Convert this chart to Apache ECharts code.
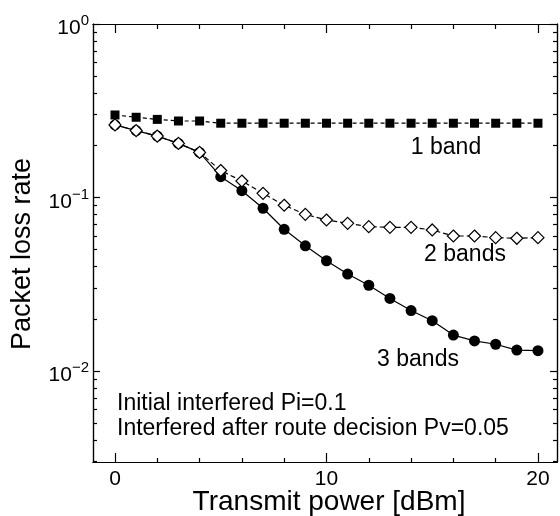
<!DOCTYPE html>
<html>
<head>
<meta charset="utf-8">
<script src="https://cdn.jsdelivr.net/npm/echarts@6/dist/echarts.min.js"></script>
<style>
  html, body { margin: 0; padding: 0; background: #fff; }
  #chart { width: 560px; height: 516px; }
</style>
</head>
<body>
<div id="chart"></div>
<script>
// transmit power [dBm]
const power = [0, 1, 2, 3, 4, 5, 6, 7, 8, 9, 10, 11, 12, 13, 14, 15, 16, 17, 18, 19, 20];
// packet loss rate
const band1 = [0.299, 0.290, 0.282, 0.276, 0.276, 0.268, 0.268, 0.268, 0.268, 0.268, 0.268,
  0.268, 0.268, 0.268, 0.268, 0.268, 0.268, 0.268, 0.268, 0.268, 0.268];
const band2 = [0.262, 0.243, 0.226, 0.205, 0.182, 0.143, 0.1245, 0.1057, 0.0902, 0.080, 0.0742,
  0.071, 0.0679, 0.0673, 0.0673, 0.065, 0.060, 0.060, 0.0587, 0.0582, 0.0587];
const band3 = [0.262, 0.243, 0.226, 0.205, 0.182, 0.1318, 0.1094, 0.0867, 0.0656, 0.0527, 0.0432,
  0.0362, 0.0312, 0.0262, 0.0223, 0.0195, 0.0161, 0.0149, 0.01426, 0.0132, 0.0131];

const xMajor = [0, 10, 20];
const xMinor = [2, 4, 6, 8, 12, 14, 16, 18];
const yExponents = [-2, -1, 0];

const FONT = "Liberation Sans";
const yMin = -2.5245, yMax = 0;

// log10 positions of the 2..9 minor ticks in each decade
const yMinor = [];
[-3, -2, -1].forEach(function (d) {
  for (let k = 2; k <= 9; k++) yMinor.push(d + Math.log10(k));
});

function pts(vals) {
  return vals.map(function (v, i) { return [power[i], Math.log10(v)]; });
}

function xAx(pos, ticks, len, labels) {
  return {
    type: "value", position: pos, min: -1.04, max: 20.9,
    axisLine: { show: true, onZero: false, lineStyle: { color: "#000", width: 1.2 } },
    axisTick: { show: true, inside: true, length: len, customValues: ticks, lineStyle: { color: "#000", width: 1.2 } },
    axisLabel: labels ? {
      show: true, customValues: ticks, color: "#000", fontSize: 21, fontFamily: FONT, margin: 7
    } : { show: false },
    splitLine: { show: false }
  };
}

function yAx(pos, ticks, len, labels) {
  return {
    type: "value", position: pos, min: yMin, max: yMax,
    axisLine: { show: true, onZero: false, lineStyle: { color: "#000", width: 1.2 } },
    axisTick: { show: true, inside: true, length: len, customValues: ticks, lineStyle: { color: "#000", width: 1.2 } },
    axisLabel: labels ? {
      show: true, customValues: ticks, margin: 4,
      formatter: function (v) {
        const e = Math.round(v);
        return "{b|10}{s|" + (e < 0 ? "\u2212" + (-e) : e) + "}";
      },
      rich: {
        b: { fontSize: 21, fontFamily: FONT, color: "#000", padding: [9, 0, 0, 0] },
        s: { fontSize: 15, fontFamily: FONT, color: "#000", padding: [0, 0, 6, 0] }
      }
    } : { show: false },
    splitLine: { show: false }
  };
}

const chart = echarts.init(document.getElementById("chart"));

const option = {
  animation: false,
  grid: { left: 93, right: 3, top: 24, bottom: 54, containLabel: false, outerBoundsMode: "none" },
  xAxis: [
    xAx("bottom", xMajor, 9, true),
    xAx("bottom", xMinor, 4, false),
    xAx("top", xMajor, 9, false),
    xAx("top", xMinor, 5, false)
  ],
  yAxis: [
    yAx("left", yExponents, 7, true),
    yAx("left", yMinor, 4, false),
    yAx("right", yExponents, 7, false),
    yAx("right", yMinor, 4, false)
  ],
  series: [
    {
      name: "3 bands", type: "line", data: pts(band3),
      symbol: "circle", symbolSize: 11,
      lineStyle: { color: "#000", width: 1.2 },
      itemStyle: { color: "#000" },
      z: 2
    },
    {
      name: "2 bands", type: "line", data: pts(band2),
      symbol: "diamond", symbolSize: 12,
      lineStyle: { color: "#000", width: 1.2, type: [5, 3] },
      itemStyle: { color: "#fff", borderColor: "#000", borderWidth: 1.2 },
      z: 3
    },
    {
      name: "1 band", type: "line", data: pts(band1),
      symbol: "rect", symbolSize: 9,
      lineStyle: { color: "#000", width: 1.2, type: [4, 3] },
      itemStyle: { color: "#000" },
      z: 4
    }
  ],
  graphic: [
    { type: "text", x: 446, y: 148, style: { text: "1 band", font: "23px " + FONT, fill: "#000", align: "center", verticalAlign: "middle" } },
    { type: "text", x: 465, y: 255, style: { text: "2 bands", font: "23px " + FONT, fill: "#000", align: "center", verticalAlign: "middle" } },
    { type: "text", x: 418, y: 360, style: { text: "3 bands", font: "23px " + FONT, fill: "#000", align: "center", verticalAlign: "middle" } },
    { type: "text", x: 117, y: 404, style: { text: "Initial interfered Pi=0.1", font: "23px " + FONT, fill: "#000", align: "left", verticalAlign: "middle" } },
    { type: "text", x: 117, y: 429, style: { text: "Interfered after route decision Pv=0.05", font: "23px " + FONT, fill: "#000", align: "left", verticalAlign: "middle" } },
    { type: "text", x: 329, y: 502, style: { text: "Transmit power [dBm]", font: "28px " + FONT, fill: "#000", align: "center", verticalAlign: "middle" } },
    { type: "text", x: 23, y: 254, rotation: Math.PI / 2, style: { text: "Packet loss rate", font: "27px " + FONT, fill: "#000", align: "center", verticalAlign: "middle" } }
  ]
};

chart.setOption(option);
window.addEventListener("resize", function () { chart.resize(); });
</script>
</body>
</html>
